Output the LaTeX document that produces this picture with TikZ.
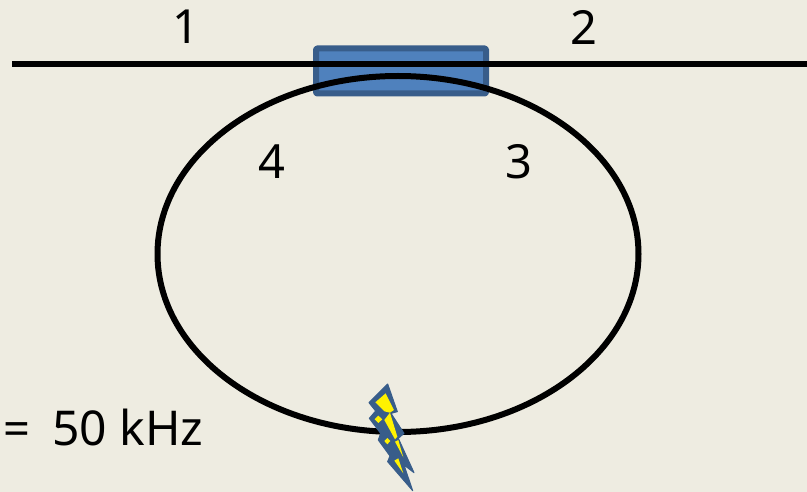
\documentclass[tikz,border=0pt]{standalone}
\usepackage{fontspec}
\usetikzlibrary{shapes.geometric}
\setmainfont{Noto Sans}
\definecolor{bgc}{HTML}{EEECE1}
\definecolor{boxfill}{HTML}{4F81BD}
\definecolor{boxline}{HTML}{385D8A}
\tikzset{lab/.style={font=\fontsize{47}{50}\selectfont,text=black,inner sep=0pt,anchor=center},
wire/.style={draw=black,line width=6pt}}
\begin{document}
\begin{tikzpicture}[x=1pt,y=-1pt]
\fill[bgc] (0,0) rectangle (807,492);
\useasboundingbox (0,0) rectangle (807,492);
\coordinate (L) at (12,64);
\coordinate (R) at (807,64);
\node[draw=boxline,fill=boxfill,line width=6pt,rounded corners=1pt,minimum width=170pt,minimum height=45pt,inner sep=0pt,line join=round] (box) at (401,71) {};
\draw[wire] (L) -- (R);
\node[wire,ellipse,minimum width=481pt,minimum height=356pt,inner sep=0pt] (ring) at (398,254) {};
\node[lab] (n1) at (186,27) {1};
\node[lab] (n2) at (584,27) {2};
\node[lab] (n3) at (519,162) {3};
\node[lab] (n4) at (272,162) {4};
\node[lab,anchor=base west] (eq) at (3,445) {=};
\node[lab,anchor=base west,font=\fontsize{48}{50}\selectfont] (f) at (52,445) {50 kHz};
\begin{scope}[shift={(340,370)},x=0.3333pt,y=-0.3333pt]
\draw[draw=boxline,fill=boxline,line width=1pt,line join=round]
 (143,42) -- (87,98) -- (107,123) -- (88,145) -- (122,190) -- (115,210) -- (150,258) -- (143,275) -- (218,362) -- (192,285) -- (222,308) -- (175,205) -- (192,190) -- (153,130) -- (172,125) -- cycle;
\fill[yellow] (137,70) -- (106,97) -- (133,124) -- (150,128) -- (162,120) -- cycle;
\fill[yellow] (133,150) -- (150,128) -- (172,200) -- (165,208) -- cycle;
\fill[yellow] (165,215) -- (175,210) -- (190,262) -- cycle;
\fill[yellow] (163,272) -- (175,265) -- (190,310) -- cycle;
\fill[yellow] (115,137) -- (127,148) -- (115,159) -- (104,148) -- cycle;
\fill[yellow] (142,204) -- (151,213) -- (142,223) -- (133,213) -- cycle;
\end{scope}
\end{tikzpicture}
\end{document}
